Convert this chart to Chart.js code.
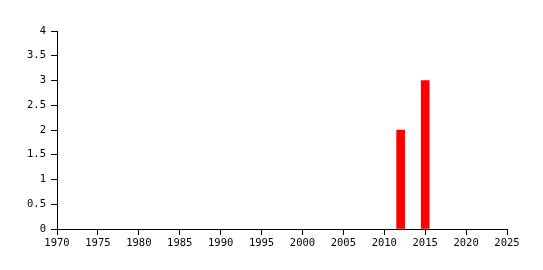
<!DOCTYPE html>
<html>
<head>
<meta charset="utf-8">
<script src="https://cdn.jsdelivr.net/npm/chart.js@4/dist/chart.umd.min.js"></script>
<style>
  html, body { margin: 0; padding: 0; background: #fff; }
  canvas { display: block; }
</style>
</head>
<body>
<canvas id="chart" width="543" height="270"></canvas>
<script>
// dados
const years = [2012, 2015];
const values = [2, 3];
const xTicks = [1970, 1975, 1980, 1985, 1990, 1995, 2000, 2005, 2010, 2015, 2020, 2025];
const yTicks = [0, 0.5, 1, 1.5, 2, 2.5, 3, 3.5, 4];

document.addEventListener('DOMContentLoaded', function() {
    const ctx = document.getElementById('chart');
    const font = { family: 'DejaVu Sans Mono', size: 10.5 };

    new Chart(ctx, {
        type: 'bar',
        data: {
            datasets: [{
                data: years.map((y, i) => ({ x: y, y: values[i] })),
                backgroundColor: '#ff0000',
                borderWidth: 0,
                barThickness: 8
            }]
        },
        options: {
            responsive: false,
            animation: false,
            layout: { padding: { left: 0, right: 36, top: 31, bottom: 0 } },
            plugins: { legend: { display: false }, tooltip: { enabled: false } },
            scales: {
                x: {
                    type: 'linear',
                    min: xTicks[0],
                    max: xTicks[xTicks.length - 1],
                    offset: false,
                    afterBuildTicks: s => { s.ticks = xTicks.map(v => ({ value: v })); },
                    afterFit: s => { s.height = 41; },
                    ticks: { color: '#000', font: font, padding: 2, maxRotation: 0, autoSkip: false,
                              callback: v => String(v) },
                    grid: { display: true, offset: false, drawOnChartArea: false, drawTicks: true, tickLength: 6, color: '#000' },
                    border: { display: true, color: '#000' }
                },
                y: {
                    min: yTicks[0],
                    max: yTicks[yTicks.length - 1],
                    afterBuildTicks: s => { s.ticks = yTicks.map(v => ({ value: v })); },
                    afterFit: s => { s.width = 57; },
                    ticks: { color: '#000', font: font, padding: 5, callback: v => String(v) },
                    grid: { display: true, drawOnChartArea: false, drawTicks: true, tickLength: 6, color: '#000' },
                    border: { display: true, color: '#000' }
                }
            }
        }
    });
});
</script>
</body>
</html>
